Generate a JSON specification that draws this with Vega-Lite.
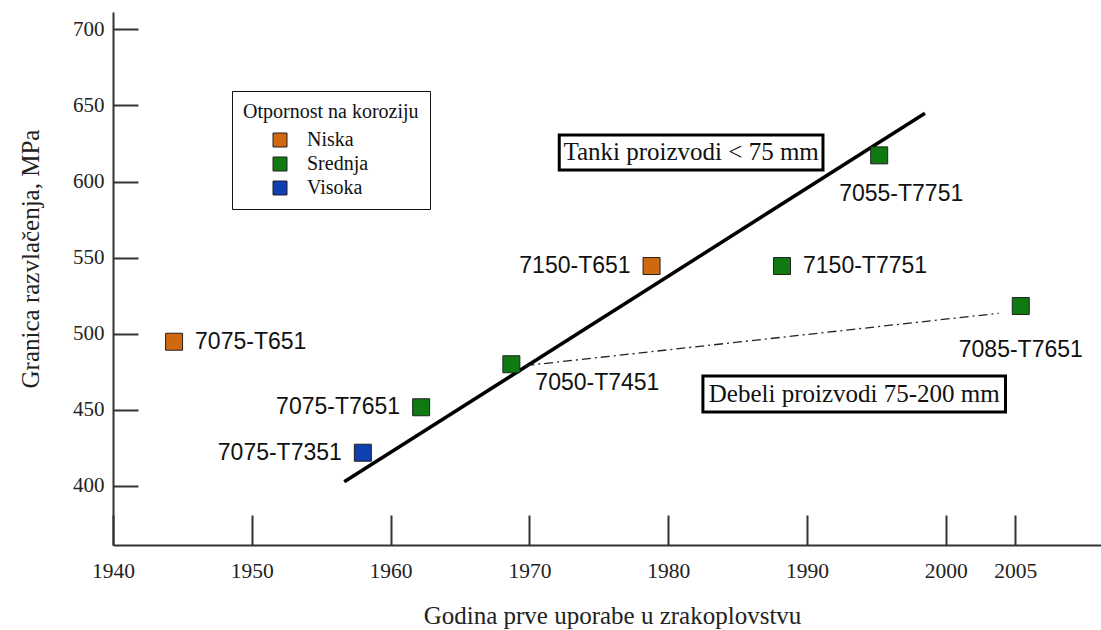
{
  "$schema": "https://vega.github.io/schema/vega-lite/v6.json",
  "autosize": {"type": "none"},
  "padding": {"left": 113, "top": 12, "right": 0, "bottom": 85},
  "width": 988,
  "height": 533,
  "background": "white",
  "config": {"view": {"stroke": null}},
  "datasets": {
    "alloys": [
      {"name": "7075-T651", "year": 1944.4, "value": 494.6, "otpornost": "Niska"},
      {"name": "7075-T7651", "year": 1962.2, "value": 451.5, "otpornost": "Srednja"},
      {"name": "7075-T7351", "year": 1958.0, "value": 421.6, "otpornost": "Visoka"},
      {"name": "7050-T7451", "year": 1968.7, "value": 479.8, "otpornost": "Srednja"},
      {"name": "7150-T651", "year": 1978.8, "value": 544.4, "otpornost": "Niska"},
      {"name": "7150-T7751", "year": 1988.2, "value": 544.4, "otpornost": "Srednja"},
      {"name": "7055-T7751", "year": 1995.2, "value": 617.2, "otpornost": "Srednja"},
      {"name": "7085-T7651", "year": 2005.4, "value": 518.1, "otpornost": "Srednja"}
    ],
    "tanki": [
      {"year": 1956.66, "value": 402.5},
      {"year": 1998.5, "value": 644.9}
    ],
    "debeli": [
      {"year": 1969.7, "value": 478.9},
      {"year": 2003.8, "value": 513.3}
    ],
    "boxes": [
      {"label": "Tanki proizvodi < 75 mm", "x1": 1972.15, "x2": 1991.15, "y1": 607.6, "y2": 630.6, "xc": 1981.65, "yc": 619.1},
      {"label": "Debeli proizvodi 75-200 mm", "x1": 1982.5, "x2": 2004.3, "y1": 448.4, "y2": 472.1, "xc": 1993.4, "yc": 460.2}
    ]
  },
  "layer": [
    {
      "data": {"name": "tanki"},
      "mark": {"type": "line", "color": "black", "strokeWidth": 3.5},
      "encoding": {
        "x": {"field": "year", "type": "quantitative", "scale": {"domain": [1940, 2011.18], "nice": false, "zero": false},
          "axis": {
            "values": [1940, 1950, 1960, 1970, 1980, 1990, 2000, 2005],
            "format": "d", "grid": false,
            "domainColor": "#333", "domainWidth": 2,
            "tickColor": "#333", "tickWidth": 2, "tickSize": -30,
            "labelFont": "Liberation Serif", "labelFontSize": 21.5, "labelColor": "#222",
            "labelFlush": false, "labelOverlap": false, "labelBaseline": "middle", "labelPadding": 56,
            "title": "Godina prve uporabe u zrakoplovstvu",
            "titleFont": "Liberation Serif", "titleFontSize": 25, "titleFontWeight": "normal", "titleColor": "#222",
            "titleX": 499, "titleY": 70, "titleBaseline": "middle", "titleAlign": "center"
          }},
        "y": {"field": "value", "type": "quantitative", "scale": {"domain": [360.9, 711.5], "nice": false, "zero": false},
          "axis": {
            "values": [400, 450, 500, 550, 600, 650, 700],
            "grid": false,
            "domainColor": "#333", "domainWidth": 2,
            "tickColor": "#333", "tickWidth": 2, "tickSize": -25,
            "labelFont": "Liberation Serif", "labelFontSize": 21, "labelColor": "#222",
            "labelFlush": false, "labelOverlap": false, "labelPadding": 34,
            "title": "Granica razvlačenja, MPa",
            "titleFont": "Liberation Serif", "titleFontSize": 25, "titleFontWeight": "normal", "titleColor": "#222",
            "titleX": -83, "titleY": 246.5, "titleBaseline": "middle", "titleAlign": "center", "titleAngle": -90
          }}
      }
    },
    {
      "data": {"name": "debeli"},
      "mark": {"type": "line", "color": "#222", "strokeWidth": 1.3, "strokeDash": [9, 4, 2, 4]},
      "encoding": {
        "x": {"field": "year", "type": "quantitative"},
        "y": {"field": "value", "type": "quantitative"}
      }
    },
    {
      "data": {"name": "boxes"},
      "mark": {"type": "rect", "fill": "white", "stroke": "black", "strokeWidth": 3},
      "encoding": {
        "x": {"field": "x1", "type": "quantitative"},
        "x2": {"field": "x2"},
        "y": {"field": "y1", "type": "quantitative"},
        "y2": {"field": "y2"}
      }
    },
    {
      "data": {"name": "boxes"},
      "mark": {"type": "text", "font": "Liberation Serif", "fontSize": 25, "color": "#111", "align": "center", "baseline": "middle"},
      "encoding": {
        "x": {"field": "xc", "type": "quantitative"},
        "y": {"field": "yc", "type": "quantitative"},
        "text": {"field": "label"}
      }
    },
    {
      "data": {"name": "alloys"},
      "mark": {"type": "point", "shape": "square", "filled": true, "size": 289, "opacity": 1, "stroke": "#222", "strokeWidth": 1},
      "encoding": {
        "x": {"field": "year", "type": "quantitative"},
        "y": {"field": "value", "type": "quantitative"},
        "color": {"field": "otpornost", "type": "nominal",
          "scale": {"domain": ["Niska", "Srednja", "Visoka"], "range": ["#d0680f", "#0f7a12", "#0f3fb0"]},
          "legend": {
            "title": "Otpornost na koroziju",
            "orient": "none", "legendX": 119, "legendY": 79,
            "strokeColor": "#111", "fillColor": "white",
            "padding": 11,
            "titleFont": "Liberation Serif", "titleFontSize": 20, "titleFontWeight": "normal", "titleColor": "#111", "titlePadding": 8,
            "labelFont": "Liberation Serif", "labelFontSize": 20, "labelColor": "#111",
            "symbolType": "square", "symbolSize": 196, "symbolStrokeColor": "#222", "symbolStrokeWidth": 1, "symbolOpacity": 1,
            "symbolOffset": 27, "labelOffset": 17, "rowPadding": 4
          }}
      }
    },
    {
      "data": {"name": "alloys"},
      "transform": [{"filter": {"field": "name", "oneOf": ["7075-T651", "7150-T7751"]}}],
      "mark": {"type": "text", "font": "Liberation Sans", "fontSize": 23, "color": "#111", "align": "left", "baseline": "middle", "dx": 21},
      "encoding": {
        "x": {"field": "year", "type": "quantitative"},
        "y": {"field": "value", "type": "quantitative"},
        "text": {"field": "name"}
      }
    },
    {
      "data": {"name": "alloys"},
      "transform": [{"filter": {"field": "name", "oneOf": ["7075-T7651", "7075-T7351", "7150-T651"]}}],
      "mark": {"type": "text", "font": "Liberation Sans", "fontSize": 23, "color": "#111", "align": "right", "baseline": "middle", "dx": -21},
      "encoding": {
        "x": {"field": "year", "type": "quantitative"},
        "y": {"field": "value", "type": "quantitative"},
        "text": {"field": "name"}
      }
    },
    {
      "data": {"name": "alloys"},
      "transform": [{"filter": {"field": "name", "equal": "7055-T7751"}}],
      "mark": {"type": "text", "font": "Liberation Sans", "fontSize": 23, "color": "#111", "align": "center", "baseline": "middle", "dx": 22, "dy": 39},
      "encoding": {
        "x": {"field": "year", "type": "quantitative"},
        "y": {"field": "value", "type": "quantitative"},
        "text": {"field": "name"}
      }
    },
    {
      "data": {"name": "alloys"},
      "transform": [{"filter": {"field": "name", "equal": "7085-T7651"}}],
      "mark": {"type": "text", "font": "Liberation Sans", "fontSize": 23, "color": "#111", "align": "center", "baseline": "middle", "dx": 0, "dy": 44},
      "encoding": {
        "x": {"field": "year", "type": "quantitative"},
        "y": {"field": "value", "type": "quantitative"},
        "text": {"field": "name"}
      }
    },
    {
      "data": {"name": "alloys"},
      "transform": [{"filter": {"field": "name", "equal": "7050-T7451"}}],
      "mark": {"type": "text", "font": "Liberation Sans", "fontSize": 23, "color": "#111", "align": "left", "baseline": "middle", "dx": 24, "dy": 19},
      "encoding": {
        "x": {"field": "year", "type": "quantitative"},
        "y": {"field": "value", "type": "quantitative"},
        "text": {"field": "name"}
      }
    }
  ]
}
